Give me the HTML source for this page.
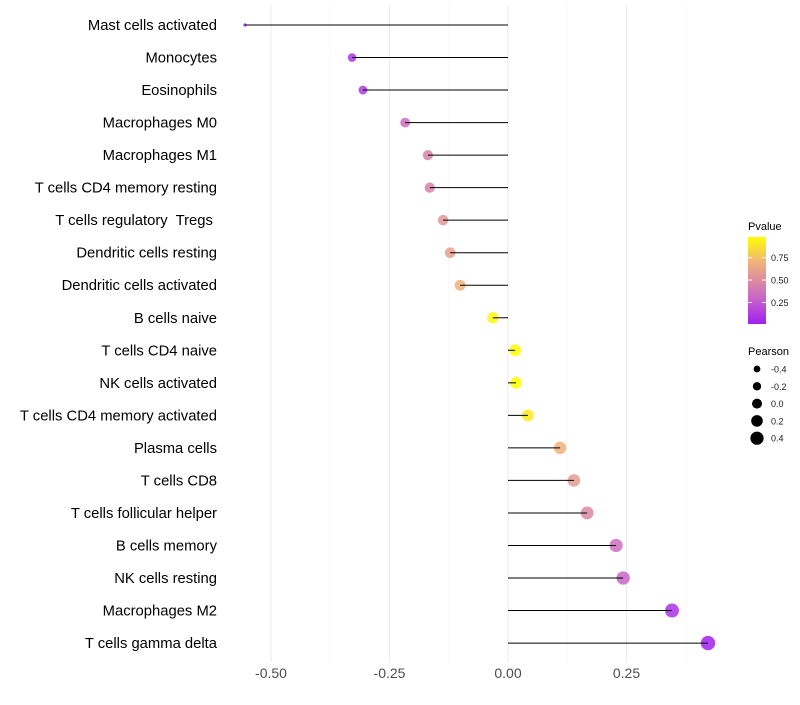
<!DOCTYPE html>
<html><head><meta charset="utf-8"><style>
body{margin:0;background:#fff;font-family:"Liberation Sans",sans-serif}
text{white-space:pre}
</style></head><body>
<svg id="chart" width="800" height="700" xmlns="http://www.w3.org/2000/svg">
<defs><linearGradient id="pg" x1="0" y1="1" x2="0" y2="0">
<stop offset="0" stop-color="#a020f0"/><stop offset="0.3" stop-color="#c866c8"/><stop offset="0.5" stop-color="#dc8ca0"/><stop offset="0.72" stop-color="#f0b478"/><stop offset="1" stop-color="#ffff00"/></linearGradient></defs>
<g id="grid"></g><g id="marks"></g><g id="stems"></g><g id="labels"></g><g id="legend"></g>
</svg>
<script>
const categories=["Mast cells activated","Monocytes","Eosinophils","Macrophages M0","Macrophages M1","T cells CD4 memory resting","T cells regulatory  Tregs ","Dendritic cells resting","Dendritic cells activated","B cells naive","T cells CD4 naive","NK cells activated","T cells CD4 memory activated","Plasma cells","T cells CD8","T cells follicular helper","B cells memory","NK cells resting","Macrophages M2","T cells gamma delta"];
const pearson=[-0.555,-0.329,-0.306,-0.217,-0.169,-0.165,-0.137,-0.122,-0.101,-0.032,0.015,0.017,0.042,0.110,0.139,0.167,0.228,0.243,0.346,0.422];
const pvalues=[0.01,0.1,0.12,0.33,0.45,0.45,0.55,0.6,0.7,0.95,0.98,0.98,0.9,0.7,0.58,0.48,0.33,0.3,0.08,0.02];
const xTicks=[-0.5,-0.25,0,0.25];
const xTickLabels=["-0.50","-0.25","0.00","0.25"];
const pLegend=[0.25,0.5,0.75];
const sizeLegend=[-0.4,-0.2,0,0.2,0.4];
const NS="http://www.w3.org/2000/svg";
const xs=v=>508+v*474;
const ys=i=>25+i*32.53;
const rs=v=>1.6+5.6*Math.sqrt(Math.max(0,(v+0.555)/0.977));
const stops=[[0,[160,32,240]],[0.3,[200,102,200]],[0.5,[220,140,160]],[0.72,[240,180,120]],[1,[255,255,0]]];
function col(p){const t=Math.max(0,Math.min(1,(p-0.01)/0.97));
for(let k=1;k<stops.length;k++){if(t<=stops[k][0]){const a=stops[k-1],b=stops[k];const u=(t-a[0])/(b[0]-a[0]);
return `rgb(${a[1].map((x,i)=>Math.round(x+(b[1][i]-x)*u))})`;}}return 'rgb(255,255,0)';}
function mk(tag,attrs,parent,text){const e=document.createElementNS(NS,tag);for(const k in attrs)e.setAttribute(k,attrs[k]);if(text!==undefined)e.textContent=text;document.getElementById(parent).appendChild(e);return e;}
const minor=[-0.375,-0.125,0.125,0.375];
minor.forEach(v=>{const l=mk('line',{x1:xs(v),x2:xs(v),y1:5,y2:662,stroke:'#f4f4f4','stroke-width':0.6},'grid');
});
xTicks.forEach((v,i)=>{const l=mk('line',{x1:xs(v),x2:xs(v),y1:5,y2:662,stroke:'#ebebeb','stroke-width':1},'grid');

const t=mk('text',{x:xs(v),y:678,'text-anchor':'middle','font-size':14,fill:'#4d4d4d'},'labels',xTickLabels[i]);
});
categories.forEach((c,i)=>{const y=ys(i);
const t=mk('text',{x:217,y:y+5,'text-anchor':'end','font-size':14.8,fill:'#000'},'labels',c);

const d=mk('circle',{cx:xs(pearson[i]),cy:y,r:rs(pearson[i]),fill:col(pvalues[i]),'fill-opacity':0.85},'marks');

const l=mk('line',{x1:xs(0),x2:xs(pearson[i]),y1:y,y2:y,stroke:'#000','stroke-width':1},'stems');
});
let e=mk('text',{x:748,y:230,'font-size':11,fill:'#000'},'legend','Pvalue');
e=mk('rect',{x:748,y:237,width:18,height:87,fill:'url(#pg)'},'legend');
const py=p=>237+87*(1-(p-0.01)/0.97);
pLegend.forEach(p=>{const y=py(p);
const a=mk('line',{x1:748,x2:752,y1:y,y2:y,stroke:'#fff'},'legend');
const b=mk('line',{x1:762,x2:766,y1:y,y2:y,stroke:'#fff'},'legend');
const t=mk('text',{x:771,y:y+3.5,'font-size':9,fill:'#1a1a1a'},'legend',p.toFixed(2));});
e=mk('text',{x:748,y:355,'font-size':11,fill:'#000'},'legend','Pearson');
sizeLegend.forEach((v,i)=>{const y=369+i*17.3;
const c=mk('circle',{cx:757,cy:y,r:3.4+i*0.8,fill:'#000'},'legend');
const t=mk('text',{x:771,y:y+3.5,'font-size':9,fill:'#1a1a1a'},'legend',v.toFixed(1));});
</script>
</body></html>
